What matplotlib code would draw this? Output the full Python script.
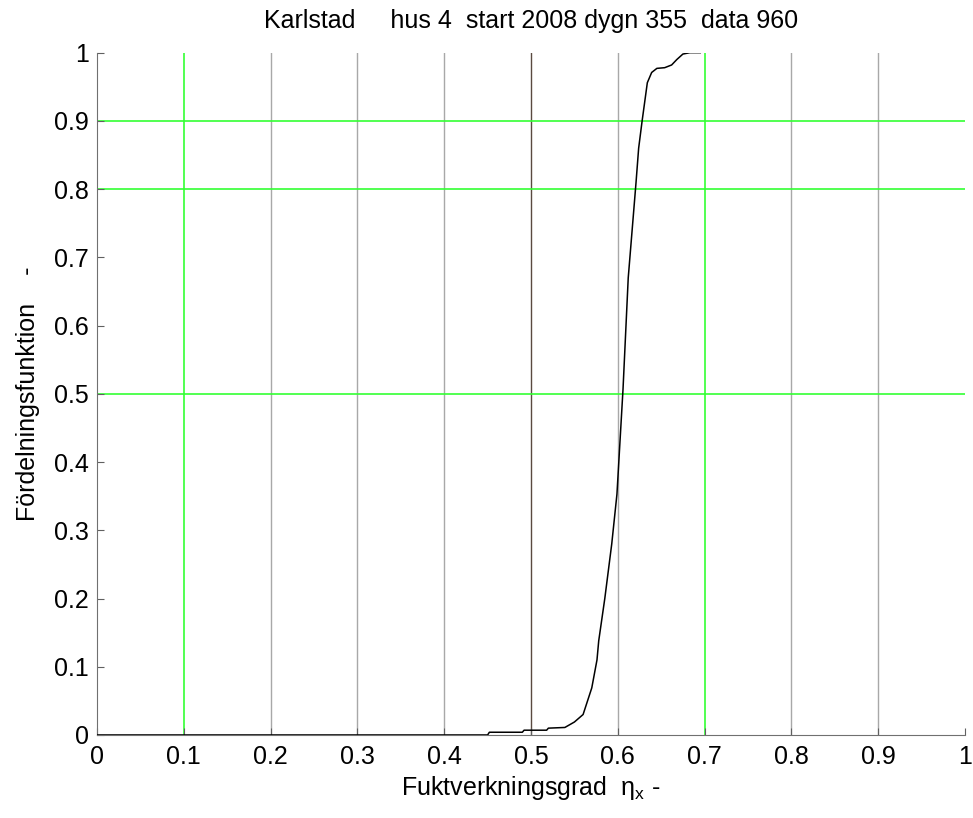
import matplotlib
matplotlib.use("Agg")
import matplotlib.pyplot as plt

plt.rcParams['font.family'] = ['Liberation Sans', 'DejaVu Sans']

# cumulative distribution
eta = [0.0, 0.45, 0.452, 0.49, 0.492, 0.518, 0.52, 0.539, 0.55, 0.56, 0.570, 0.576,
       0.578, 0.585, 0.593, 0.599, 0.606, 0.612, 0.621, 0.624, 0.628, 0.634, 0.639,
       0.645, 0.654, 0.662, 0.668, 0.675, 0.683, 0.695]
F = [0.0, 0.0, 0.004, 0.004, 0.007, 0.007, 0.01, 0.011, 0.019, 0.03, 0.069, 0.11,
     0.138, 0.2, 0.28, 0.353, 0.507, 0.67, 0.81, 0.86, 0.90, 0.956, 0.971,
     0.977, 0.978, 0.982, 0.99, 0.998, 1.0, 1.0]

xticks = [0, 0.1, 0.2, 0.3, 0.4, 0.5, 0.6, 0.7, 0.8, 0.9, 1]
yticks = [0, 0.1, 0.2, 0.3, 0.4, 0.5, 0.6, 0.7, 0.8, 0.9, 1]
tick_labels = ['0', '0.1', '0.2', '0.3', '0.4', '0.5', '0.6', '0.7', '0.8', '0.9', '1']
gray_x = [0.2, 0.3, 0.4, 0.6, 0.8, 0.9]
green_x = [0.1, 0.7]
green_y = [0.5, 0.8, 0.9]

fs = 18

fig = plt.figure(figsize=(9.73, 8.18), dpi=100)
ax = fig.add_axes([0.0997, 0.1015, 0.8921, 0.8341])

for x in gray_x:
    ax.axvline(x, color='#a8a8a8', lw=1, zorder=1)
ax.axvline(0.5, color='#5a4a40', lw=1, zorder=1)
for x in green_x:
    ax.axvline(x, color='#33ff33', lw=1.2, zorder=1)
for y in green_y:
    ax.axhline(y, color='#33ff33', lw=1.2, zorder=1)

ax.plot(eta, F, color='black', lw=1.1, zorder=3)

ax.set_xlim(0, 1)
ax.set_ylim(0, 1)
ax.set_xticks(xticks)
ax.set_xticklabels(tick_labels)
ax.set_yticks(yticks)
ax.set_yticklabels(tick_labels)
ax.tick_params(direction='in', length=5, color='#606060', labelsize=fs)
ax.tick_params(axis='x', pad=7)
ax.tick_params(axis='y', pad=6)

ax.spines['top'].set_visible(False)
ax.spines['right'].set_visible(False)
ax.spines['left'].set_color('#707070')
ax.spines['bottom'].set_color('#707070')

ax.set_title('Karlstad     hus 4  start 2008 dygn 355  data 960', fontsize=fs, pad=18)
ax.set_xlabel(r'Fuktverkningsgrad  η$_\mathregular{x}$ -', fontsize=fs, labelpad=4)
ax.set_ylabel('Fördelningsfunktion    -', fontsize=fs, labelpad=10)

fig.savefig('out.png', dpi=100)
